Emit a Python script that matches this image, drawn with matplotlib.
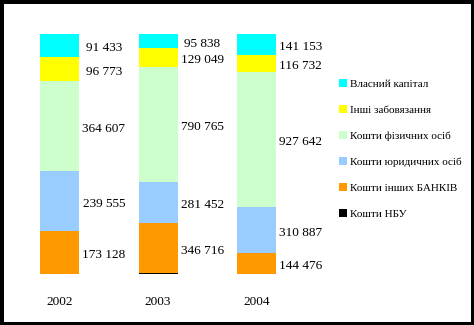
import matplotlib
matplotlib.use("Agg")
import matplotlib.pyplot as plt
import numpy as np

plt.rcParams["font.family"] = ["Liberation Serif", "DejaVu Serif"]

years = ["2002", "2003", "2004"]
series = ["Кошти НБУ", "Кошти інших БАНКІВ", "Кошти юридичних осіб",
          "Кошти фізичних осіб", "Інші забовязання", "Власний капітал"]
colors = ["#000000", "#FF9900", "#99CCFF", "#CCFFCC", "#FFFF00", "#00FFFF"]

nbu = [0, 5000, 0]
banks = [173128, 346716, 144476]
legal = [239555, 281452, 310887]
physical = [364607, 790765, 927642]
other = [96773, 129049, 116732]
capital = [91433, 95838, 141153]

values = np.array([nbu, banks, legal, physical, other, capital], dtype=float)
shares = values / values.sum(axis=0)

fig = plt.figure(figsize=(4.74, 3.25), dpi=100)
fig.patch.set_edgecolor("black")
fig.patch.set_linewidth(5)
ax = fig.add_axes([10 / 474, 51 / 325, 320 / 474, 240 / 325])

x = np.arange(len(years))
bottom = np.zeros(len(years))
for i, (name, col) in enumerate(zip(series, colors)):
    ax.bar(x, shares[i], 0.396, bottom=bottom, color=col, label=name, linewidth=0)
    if i > 0:
        for j in x:
            lbl = f"{int(values[i, j]):,}".replace(",", " ")
            ax.text(j + 0.45, bottom[j] + shares[i, j] / 2 - 0.012, lbl,
                    ha="center", va="center", fontsize=9.5)
    bottom += shares[i]

ax.set_xlim(-0.5025, 2.746)
ax.set_ylim(0, 1)
ax.set_xticks(x)
ax.set_xticklabels(years, fontsize=9.5)
ax.tick_params(axis="x", length=0, pad=16)
ax.set_yticks([])
for s in ax.spines.values():
    s.set_visible(False)

h, l = ax.get_legend_handles_labels()
fig.legend(h[::-1], l[::-1], loc="upper left", bbox_to_anchor=(339 / 474, 0.758),
           frameon=False, fontsize=8, handlelength=0.75, handleheight=0.75,
           handletextpad=0.25, labelspacing=1.45, borderpad=0, borderaxespad=0)

fig.savefig("out.png", dpi=100, edgecolor=fig.get_edgecolor())
